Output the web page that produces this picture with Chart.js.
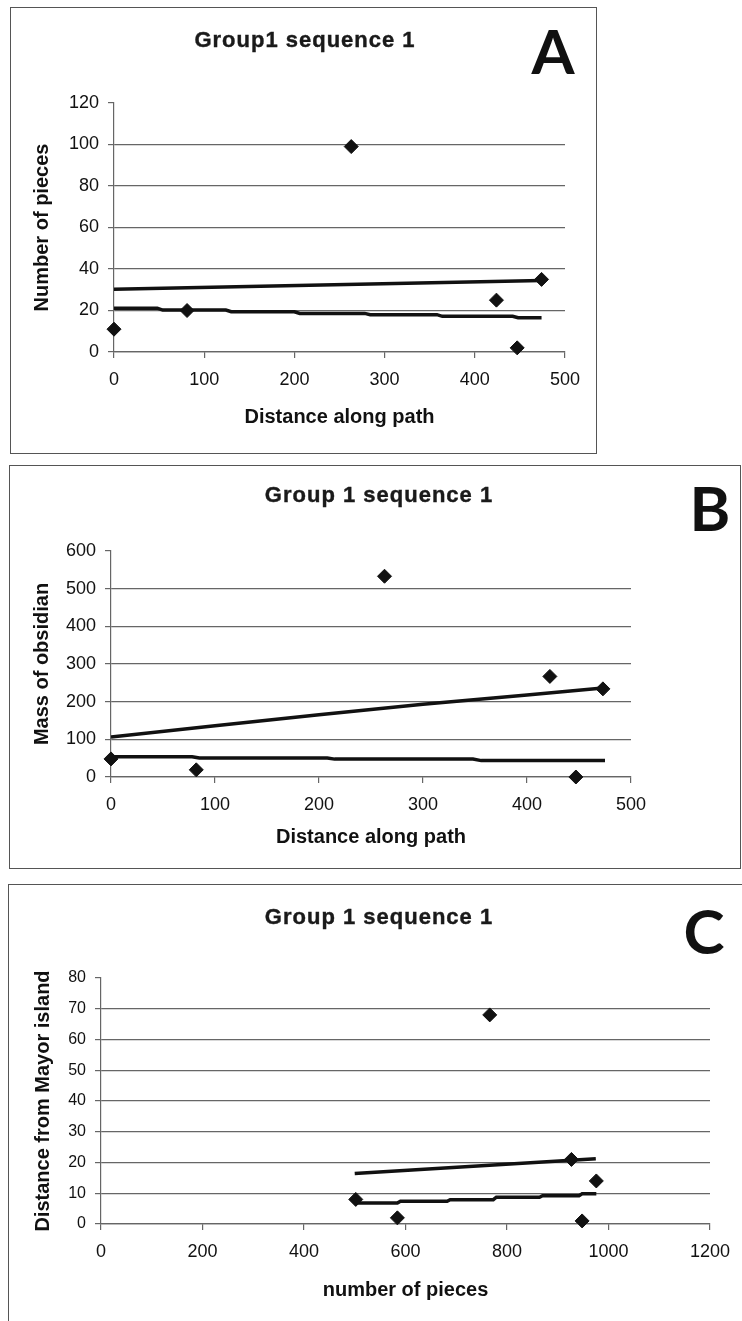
<!DOCTYPE html>
<html>
<head>
<meta charset="utf-8">
<title>Group 1 sequence 1</title>
<script src="https://cdn.jsdelivr.net/npm/chart.js@4.4.1/dist/chart.umd.min.js"></script>
<style>
  html, body { margin: 0; padding: 0; background: #fff; }
  body { width: 742px; height: 1321px; position: relative; overflow: hidden; font-family: "Liberation Sans", Arial, sans-serif; }
  .panel { position: absolute; border: 1px solid #555; box-sizing: border-box; }
  .panel canvas { position: absolute; left: 0; top: 0; }
  .title { position: absolute; font-weight: bold; font-size: 22px; line-height: 1; letter-spacing: 1px; color: #1a1a1a; white-space: nowrap; transform: translate(-50%, -50%); -webkit-text-stroke: 0.4px #1a1a1a; }
  .letter { position: absolute; font-family: Lato, "DejaVu Sans", sans-serif; font-weight: 700; font-size: 62px; line-height: 1; color: #111; transform: translate(-50%, -50%); }
</style>
</head>
<body>

<div class="panel" style="left:10px; top:7px; width:587px; height:447px;">
  <canvas id="chartA" width="585" height="445"></canvas>
</div>
<div class="title" style="left:305px; top:40px;">Group1 sequence 1</div>
<div class="letter" style="left:553px; top:50px;">A</div>

<div class="panel" style="left:9px; top:465px; width:732px; height:404px;">
  <canvas id="chartB" width="730" height="402"></canvas>
</div>
<div class="title" style="left:379px; top:495px;">Group 1 sequence 1</div>
<div class="letter" style="left:710px; top:507px;">B</div>

<div class="panel" style="left:8px; top:884px; width:745px; height:445px;">
  <canvas id="chartC" width="743" height="443"></canvas>
</div>
<div class="title" style="left:379px; top:917px;">Group 1 sequence 1</div>
<div class="letter" style="left:704px; top:930px;">C</div>

<script>
// Panel A: number of pieces vs distance along path
const aDistance = [0, 81, 263, 424, 447, 474];
const aPieces = [11, 20, 99, 25, 2, 35];
const aUpperX = [0, 474];
const aUpperY = [30.3, 34.5];
const aLowerX = [0, 48, 54, 124, 130, 200, 206, 278, 284, 358, 364, 442, 448, 474];
const aLowerY = [21.1, 21.1, 20.2, 20.2, 19.4, 19.4, 18.6, 18.6, 18.0, 18.0, 17.2, 17.2, 16.5, 16.5];
const aYTicks = [0, 20, 40, 60, 80, 100, 120];
const aXTicks = [0, 100, 200, 300, 400, 500];

// Panel B: mass of obsidian vs distance along path
const bDistance = [0, 82, 263, 422, 447, 473];
const bMass = [48, 19, 533, 267, 0, 234];
const bUpperX = [0, 100, 200, 300, 400, 473];
const bUpperY = [106, 136, 165, 193, 218, 236];
const bLowerX = [0, 78, 85, 208, 215, 348, 356, 475];
const bLowerY = [54, 54, 50.5, 50.5, 47.5, 47.5, 43.5, 43.5];
const bYTicks = [0, 100, 200, 300, 400, 500, 600];
const bXTicks = [0, 100, 200, 300, 400, 500];

// Panel C: distance from Mayor island vs number of pieces
const cPieces = [502, 584, 766, 927, 948, 976];
const cDistance = [8, 2, 68, 21, 1, 14];
const cUpperX = [500, 975];
const cUpperY = [16.4, 21.2];
const cLowerX = [500, 584, 590, 682, 688, 773, 779, 864, 870, 942, 948, 976];
const cLowerY = [6.8, 6.8, 7.4, 7.4, 7.9, 7.9, 8.7, 8.7, 9.2, 9.2, 9.8, 9.8];
const cYTicks = [0, 10, 20, 30, 40, 50, 60, 70, 80];
const cXTicks = [0, 200, 400, 600, 800, 1000, 1200];

const ink = '#111';
const gridColor = '#666';
const fontFamily = '"Liberation Sans", Arial, sans-serif';

function toPoints(xs, ys) {
    return xs.map((x, i) => ({ x: x, y: ys[i] }));
}

function createPanel(canvasId, setup) {
    const canvas = document.getElementById(canvasId);
    const area = setup.area; // plot box inside the canvas
    const yMax = setup.yTicks[setup.yTicks.length - 1];

    new Chart(canvas.getContext('2d'), {
        type: 'scatter',
        data: {
            datasets: [
                {
                    data: toPoints(setup.pointsX, setup.pointsY),
                    pointStyle: 'rectRot',
                    pointRadius: 7,
                    backgroundColor: ink,
                    borderColor: ink,
                    borderWidth: 1,
                    clip: false
                },
                {
                    data: toPoints(setup.upperX, setup.upperY),
                    showLine: true,
                    pointRadius: 0,
                    borderColor: ink,
                    borderWidth: 3.5
                },
                {
                    data: toPoints(setup.lowerX, setup.lowerY),
                    showLine: true,
                    pointRadius: 0,
                    borderColor: ink,
                    borderWidth: 3.5
                }
            ]
        },
        options: {
            responsive: false,
            animation: false,
            devicePixelRatio: 1,
            layout: {
                padding: { left: 0, top: area.top, right: canvas.width - area.right, bottom: 0 }
            },
            plugins: {
                legend: { display: false },
                tooltip: { enabled: false }
            },
            scales: {
                x: {
                    type: 'linear',
                    min: setup.xTicks[0],
                    max: setup.xTicks[setup.xTicks.length - 1],
                    afterBuildTicks: scale => { scale.ticks = setup.xTicks.map(v => ({ value: v })); },
                    ticks: {
                        autoSkip: false, maxRotation: 0, padding: 11, color: ink,
                        font: { family: fontFamily, size: 18 },
                        callback: value => String(value)
                    },
                    grid: { drawOnChartArea: false, tickLength: 6, tickColor: gridColor, lineWidth: 1.2 },
                    border: { color: gridColor, width: 1.2 },
                    title: { display: true, text: setup.xTitle, color: ink, padding: setup.xTitlePad, font: { family: fontFamily, size: 20, weight: 'bold' } },
                    afterFit: scale => { scale.height = canvas.height - area.bottom; }
                },
                y: {
                    type: 'linear',
                    min: setup.yTicks[0],
                    max: yMax,
                    afterBuildTicks: scale => { scale.ticks = setup.yTicks.map(v => ({ value: v })); },
                    ticks: {
                        autoSkip: false, padding: 9, color: ink,
                        font: { family: fontFamily, size: setup.yTickSize },
                        callback: value => String(value)
                    },
                    grid: {
                        tickLength: 6,
                        tickColor: gridColor,
                        lineWidth: 1.2,
                        color: c => (c.tick && c.tick.value === yMax) ? 'rgba(0,0,0,0)' : gridColor
                    },
                    border: { color: gridColor, width: 1.2 },
                    title: { display: true, text: setup.yTitle, color: ink, padding: setup.yTitlePad, font: { family: fontFamily, size: 20, weight: 'bold' } },
                    afterFit: scale => { scale.width = area.left; }
                }
            }
        }
    });
}

createPanel('chartA', {
    pointsX: aDistance, pointsY: aPieces,
    upperX: aUpperX, upperY: aUpperY,
    lowerX: aLowerX, lowerY: aLowerY,
    xTicks: aXTicks, yTicks: aYTicks,
    xTitle: 'Distance along path', yTitle: 'Number of pieces',
    area: { left: 103, top: 95, right: 554, bottom: 344 },
    xTitlePad: 24, yTitlePad: 19, yTickSize: 18
});

createPanel('chartB', {
    pointsX: bDistance, pointsY: bMass,
    upperX: bUpperX, upperY: bUpperY,
    lowerX: bLowerX, lowerY: bLowerY,
    xTicks: bXTicks, yTicks: bYTicks,
    xTitle: 'Distance along path', yTitle: 'Mass of obsidian',
    area: { left: 101, top: 85, right: 621, bottom: 311 },
    xTitlePad: 19, yTitlePad: 20, yTickSize: 18
});

createPanel('chartC', {
    pointsX: cPieces, pointsY: cDistance,
    upperX: cUpperX, upperY: cUpperY,
    lowerX: cLowerX, lowerY: cLowerY,
    xTicks: cXTicks, yTicks: cYTicks,
    xTitle: 'number of pieces', yTitle: 'Distance from Mayor island',
    area: { left: 92, top: 93, right: 701, bottom: 339 },
    xTitlePad: 26, yTitlePad: 22, yTickSize: 16
});
</script>
</body>
</html>
